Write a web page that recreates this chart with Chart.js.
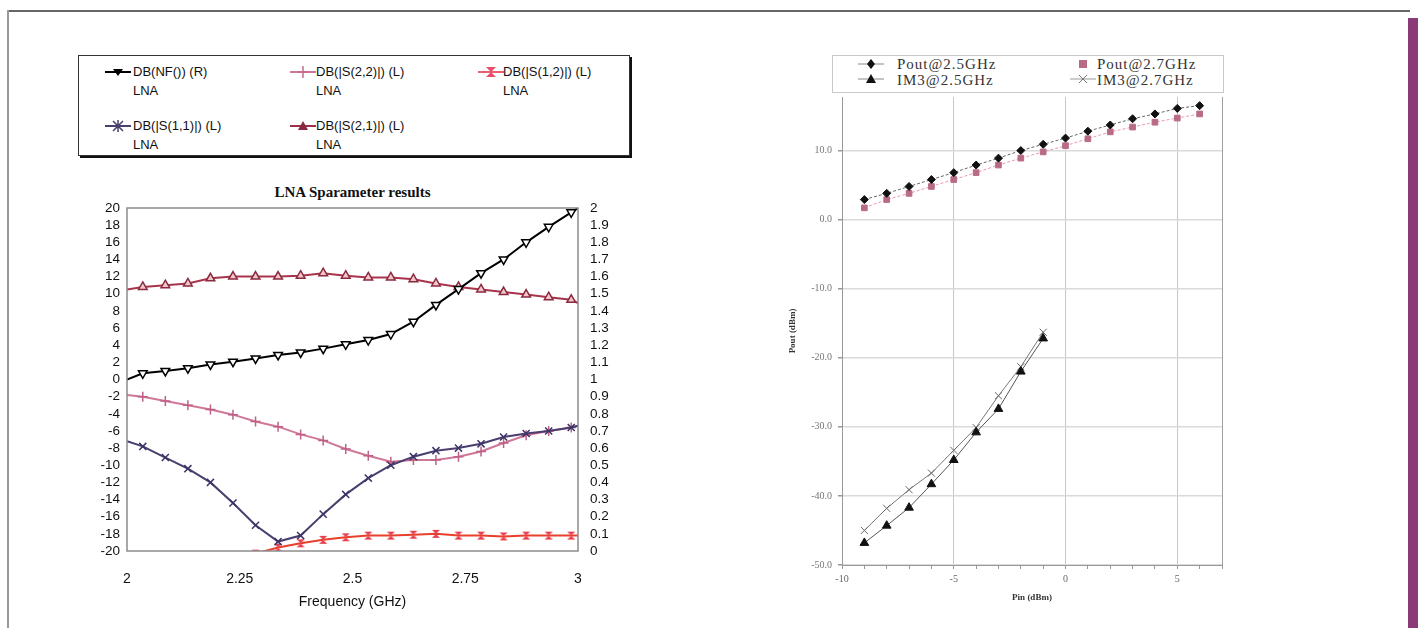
<!DOCTYPE html>
<html>
<head>
<meta charset="utf-8">
<script src="https://cdn.jsdelivr.net/npm/chart.js"></script>
<style>
html, body { margin: 0; padding: 0; background: #fff; }
body { width: 1421px; height: 628px; position: relative; overflow: hidden; }
.abs { position: absolute; }
.lg { position: absolute; font: 13px "Liberation Sans", Arial, sans-serif; color: #111; line-height: 16px; white-space: nowrap; }
.rg { position: absolute; font: 15px "Liberation Serif", "Times New Roman", serif; color: #333; letter-spacing: 1px; line-height: 16px; white-space: nowrap; }
</style>
</head>
<body>
<!-- cadre de la page scannée -->
<div class="abs" style="left:8px;top:10px;width:1402px;height:0;border-top:2px solid #666"></div>
<div class="abs" style="left:7px;top:10px;width:0;height:620px;border-left:2px solid #999"></div>
<div class="abs" style="left:1408px;top:18px;width:10px;height:610px;background:#8b3a78"></div>

<!-- légende du graphe de gauche -->
<div class="abs" style="left:78px;top:55px;width:550px;height:99px;border:1px solid #333;box-shadow:2px 2px 0 #111"></div>
<svg class="abs" style="left:105px;top:66px" width="26" height="12"><line x1="0" y1="6" x2="26" y2="6" stroke="#000" stroke-width="2"/><path d="M8 3 L18 3 L13 10 Z" fill="#000"/></svg>
<div class="lg" style="left:133px;top:64px">DB(NF()) (R)</div>
<div class="lg" style="left:133px;top:83px">LNA</div>
<svg class="abs" style="left:290px;top:66px" width="26" height="12"><line x1="0" y1="6" x2="26" y2="6" stroke="#d07898" stroke-width="2"/><path d="M13 0 L13 12 M7 6 L19 6" stroke="#c86890" stroke-width="1.5"/></svg>
<div class="lg" style="left:316px;top:64px">DB(|S(2,2)|) (L)</div>
<div class="lg" style="left:316px;top:83px">LNA</div>
<svg class="abs" style="left:478px;top:66px" width="26" height="12"><line x1="0" y1="6" x2="26" y2="6" stroke="#e86070" stroke-width="2"/><path d="M8 1 L18 1 L13 6 L18 11 L8 11 L13 6 Z" fill="#e8506a"/></svg>
<div class="lg" style="left:503px;top:64px">DB(|S(1,2)|) (L)</div>
<div class="lg" style="left:503px;top:83px">LNA</div>
<svg class="abs" style="left:105px;top:120px" width="26" height="12"><line x1="0" y1="6" x2="26" y2="6" stroke="#4a3e6e" stroke-width="2"/><path d="M8 1 L18 11 M18 1 L8 11 M13 0 L13 12" stroke="#4a3e6e" stroke-width="1.5"/></svg>
<div class="lg" style="left:133px;top:118px">DB(|S(1,1)|) (L)</div>
<div class="lg" style="left:133px;top:137px">LNA</div>
<svg class="abs" style="left:290px;top:120px" width="26" height="12"><line x1="0" y1="6" x2="26" y2="6" stroke="#a03048" stroke-width="2"/><path d="M13 1 L18 10 L8 10 Z" fill="#8a2a40"/></svg>
<div class="lg" style="left:316px;top:118px">DB(|S(2,1)|) (L)</div>
<div class="lg" style="left:316px;top:137px">LNA</div>

<div class="abs" style="left:127px;top:184px;width:451px;text-align:center;font:bold 15px 'Liberation Serif','Times New Roman',serif;color:#111">LNA Sparameter results</div>
<div class="abs" style="left:60px;top:170px;width:600px;height:445px"><canvas id="chartLna"></canvas></div>

<!-- légende du graphe de droite -->
<div class="abs" style="left:832px;top:55px;width:390px;height:36px;border:1px solid #c8c8c8;background:#fff"></div>
<svg class="abs" style="left:858px;top:58px" width="26" height="12"><line x1="0" y1="6" x2="26" y2="6" stroke="#888" stroke-width="1"/><path d="M13 1 L17 6 L13 11 L9 6 Z" fill="#111"/></svg>
<div class="rg" style="left:897px;top:56px">Pout@2.5GHz</div>
<svg class="abs" style="left:1070px;top:58px" width="26" height="12"><rect x="9" y="2" width="8" height="8" fill="#b86b85"/></svg>
<div class="rg" style="left:1097px;top:56px">Pout@2.7GHz</div>
<svg class="abs" style="left:858px;top:73px" width="26" height="12"><line x1="0" y1="6" x2="26" y2="6" stroke="#888" stroke-width="1"/><path d="M13 1 L18 10 L8 10 Z" fill="#111"/></svg>
<div class="rg" style="left:897px;top:72px">IM3@2.5GHz</div>
<svg class="abs" style="left:1070px;top:73px" width="26" height="12"><line x1="0" y1="6" x2="26" y2="6" stroke="#999" stroke-width="1"/><path d="M9 2 L17 10 M17 2 L9 10" stroke="#777" stroke-width="1"/></svg>
<div class="rg" style="left:1097px;top:72px">IM3@2.7GHz</div>

<div class="abs" style="left:780px;top:85px;width:460px;height:530px"><canvas id="chartPout"></canvas></div>

<script>
const freq = [2.0, 2.035, 2.085, 2.135, 2.185, 2.235, 2.285, 2.335, 2.385, 2.435, 2.485,
              2.535, 2.585, 2.635, 2.685, 2.735, 2.785, 2.835, 2.885, 2.935, 2.985, 3.0];
const nfR = [1.0, 1.036, 1.05, 1.066, 1.088, 1.104, 1.123, 1.143, 1.158, 1.18, 1.205,
             1.23, 1.265, 1.337, 1.435, 1.527, 1.62, 1.70, 1.80, 1.89, 1.975, 2.0];
const s21 = [10.5, 10.8, 11.0, 11.2, 11.8, 12.0, 12.0, 12.0, 12.1, 12.4, 12.1,
             11.9, 11.9, 11.7, 11.2, 10.8, 10.5, 10.2, 9.9, 9.6, 9.3, 8.9];
const s22 = [-1.8, -2.0, -2.5, -3.0, -3.5, -4.1, -4.9, -5.5, -6.4, -7.1, -8.1,
             -8.9, -9.6, -9.4, -9.4, -9.0, -8.4, -7.4, -6.5, -6.0, -5.6, -5.4];
const s11 = [-7.2, -7.8, -9.1, -10.4, -12.0, -14.4, -17.0, -18.9, -18.2, -15.7, -13.4,
             -11.5, -10.0, -9.0, -8.3, -8.0, -7.5, -6.7, -6.3, -6.0, -5.6, -5.4];
const s12 = [null, null, null, null, null, null, -20.3, -19.6, -19.1, -18.7, -18.4,
             -18.2, -18.2, -18.1, -18.0, -18.2, -18.2, -18.3, -18.2, -18.2, -18.2, -18.2];
const freqTicks = [2, 2.25, 2.5, 2.75, 3];

// données du graphe de droite (Pin en dBm)
const pin = [-9, -8, -7, -6, -5, -4, -3, -2, -1, 0, 1, 2, 3, 4, 5, 6];
const pout25 = [2.9, 3.8, 4.8, 5.8, 6.8, 7.9, 8.9, 10.0, 10.9, 11.8, 12.8, 13.7, 14.6, 15.3, 16.1, 16.5];
const pout27 = [1.7, 2.9, 3.8, 4.8, 5.8, 6.8, 7.9, 8.9, 9.8, 10.7, 11.7, 12.7, 13.4, 14.1, 14.7, 15.3];
const pinIm3 = [-9, -8, -7, -6, -5, -4, -3, -2, -1];
const im3_25 = [-46.8, -44.3, -41.7, -38.3, -34.8, -30.8, -27.4, -22.0, -17.2];
const im3_27 = [-45.0, -41.8, -39.1, -36.7, -33.4, -30.1, -25.5, -21.3, -16.3];

const sansNarrow = "'Liberation Sans Narrow', 'Arial Narrow', 'Liberation Sans', Arial, sans-serif";
const serif = "'Liberation Serif', 'Times New Roman', serif";

// marqueur "sablier" pour S(1,2)
function sablier(color) {
    const c = document.createElement('canvas');
    c.width = 10; c.height = 10;
    const g = c.getContext('2d');
    g.fillStyle = color;
    g.beginPath();
    g.moveTo(1, 1); g.lineTo(9, 1); g.lineTo(5, 5); g.lineTo(9, 9); g.lineTo(1, 9); g.lineTo(5, 5);
    g.closePath();
    g.fill();
    return c;
}

// pas de marqueur aux extrémités 2 et 3 GHz
const rayon = (ctx) => (ctx.dataIndex === 0 || ctx.dataIndex === freq.length - 1) ? 0 : 5;

function serie(label, valeurs, couleur, extra) {
    return Object.assign({
        label: label,
        data: freq.map((f, i) => ({ x: f, y: valeurs[i] })),
        borderColor: couleur,
        borderWidth: 2,
        pointRadius: rayon,
        pointHoverRadius: rayon,
        pointBorderWidth: 1.5,
        yAxisID: 'y'
    }, extra);
}

// cadre gris autour de la zone de tracé
const cadre = {
    id: 'cadre',
    afterDraw(chart) {
        const a = chart.chartArea, ctx = chart.ctx;
        ctx.save();
        ctx.strokeStyle = '#8c8c8c';
        ctx.lineWidth = 1.5;
        ctx.strokeRect(a.left, a.top, a.right - a.left, a.bottom - a.top);
        ctx.restore();
    }
};

new Chart(document.getElementById('chartLna'), {
    type: 'line',
    data: {
        datasets: [
            serie('DB(NF()) (R)', nfR, '#000', {
                yAxisID: 'y1', pointStyle: 'triangle', pointRotation: 180,
                pointBackgroundColor: '#fff', pointBorderColor: '#000'
            }),
            serie('DB(|S(2,1)|) (L)', s21, '#a8344c', {
                pointStyle: 'triangle', pointBackgroundColor: '#f2c6c8', pointBorderColor: '#8a2a40'
            }),
            serie('DB(|S(1,1)|) (L)', s11, '#4a3e6e', {
                pointStyle: 'crossRot', pointBorderColor: '#3c3466'
            }),
            serie('DB(|S(2,2)|) (L)', s22, '#d07898', {
                pointStyle: 'cross', pointBorderColor: '#c06088'
            }),
            serie('DB(|S(1,2)|) (L)', s12, '#e8402a', {
                pointStyle: sablier('#e8404e')
            })
        ]
    },
    options: {
        responsive: true,
        maintainAspectRatio: false,
        animation: false,
        layout: { padding: { left: 0, right: 32, top: 38, bottom: 0 } },
        plugins: { legend: { display: false }, tooltip: { enabled: false } },
        scales: {
            x: {
                type: 'linear', min: 2, max: 3,
                afterBuildTicks: (s) => { s.ticks = freqTicks.map(v => ({ value: v })); },
                afterFit: (s) => { s.height = 64; },
                grid: { display: false, drawTicks: false },
                border: { display: false },
                ticks: { padding: 20, color: '#111', font: { family: sansNarrow, size: 14 }, callback: v => String(v) },
                title: { display: true, text: 'Frequency (GHz)', color: '#111', font: { family: sansNarrow, size: 14 }, padding: { top: 0, bottom: 4 } }
            },
            y: {
                position: 'left', min: -20, max: 20,
                afterFit: (s) => { s.width = 67; },
                grid: { display: false, drawTicks: false },
                border: { display: false },
                ticks: { stepSize: 2, autoSkip: false, padding: 7, color: '#111', font: { family: sansNarrow, size: 13.5, lineHeight: 1 }, callback: v => String(v) }
            },
            y1: {
                position: 'right', min: 0, max: 2,
                afterFit: (s) => { s.width = 50; },
                grid: { display: false, drawTicks: false },
                border: { display: false },
                ticks: { stepSize: 0.1, autoSkip: false, padding: 12, color: '#111', font: { family: sansNarrow, size: 13.5, lineHeight: 1 }, callback: v => String(Math.round(v * 10) / 10) }
            }
        }
    },
    plugins: [cadre]
});

// graphe de droite : Pout et IM3 en fonction de Pin
const pts = (xs, ys) => xs.map((x, i) => ({ x: x, y: ys[i] }));

new Chart(document.getElementById('chartPout'), {
    type: 'line',
    data: {
        datasets: [
            {
                label: 'Pout@2.5GHz', data: pts(pin, pout25),
                borderColor: '#666', borderWidth: 1, borderDash: [3, 2],
                pointStyle: 'rectRot', pointRadius: 4, pointBackgroundColor: '#111', pointBorderColor: '#111'
            },
            {
                label: 'Pout@2.7GHz', data: pts(pin, pout27),
                borderColor: '#e898b0', borderWidth: 1, borderDash: [3, 2],
                pointStyle: 'rect', pointRadius: 4, pointBackgroundColor: '#b86b85', pointBorderColor: '#b86b85'
            },
            {
                label: 'IM3@2.5GHz', data: pts(pinIm3, im3_25),
                borderColor: '#555', borderWidth: 1,
                pointStyle: 'triangle', pointRadius: 5, pointBackgroundColor: '#111', pointBorderColor: '#111'
            },
            {
                label: 'IM3@2.7GHz', data: pts(pinIm3, im3_27),
                borderColor: '#777', borderWidth: 1,
                pointStyle: 'crossRot', pointRadius: 5, pointBorderColor: '#666', pointBorderWidth: 1
            }
        ]
    },
    options: {
        responsive: true,
        maintainAspectRatio: false,
        animation: false,
        layout: { padding: { left: 0, right: 18, top: 8, bottom: 0 } },
        plugins: { legend: { display: false }, tooltip: { enabled: false } },
        scales: {
            x: {
                type: 'linear', min: -10, max: 7, bounds: 'data',
                afterFit: (s) => { s.height = 50; },
                grid: {
                    color: (c) => c.tick.value === 7 ? '#a0a0a0' : (c.tick.value % 5 === 0 && c.tick.value !== -10 ? '#c8c8c8' : 'rgba(0,0,0,0)'),
                    tickColor: '#999', tickLength: 4
                },
                border: { color: '#999' },
                ticks: {
                    stepSize: 1, autoSkip: false, maxRotation: 0, padding: 4, color: '#666',
                    font: { family: serif, size: 10 },
                    callback: v => v % 5 === 0 ? String(v) : ''
                },
                title: { display: true, text: 'Pin (dBm)', color: '#333', font: { family: serif, size: 9, weight: 'bold' }, padding: { top: 0, bottom: 12 } }
            },
            y: {
                min: -50, max: 17.75, bounds: 'data',
                afterFit: (s) => { s.width = 62; },
                grid: { color: '#dadada', lineWidth: 1.5, tickColor: '#999', tickLength: 4 },
                border: { color: '#999' },
                ticks: { stepSize: 10, includeBounds: false, padding: 6, color: '#777', font: { family: serif, size: 10 }, callback: v => v.toFixed(1) },
                title: { display: true, text: 'Pout (dBm)', color: '#333', font: { family: serif, size: 9, weight: 'bold' }, padding: { top: 7, bottom: 0 } }
            }
        }
    }
});
</script>
</body>
</html>
